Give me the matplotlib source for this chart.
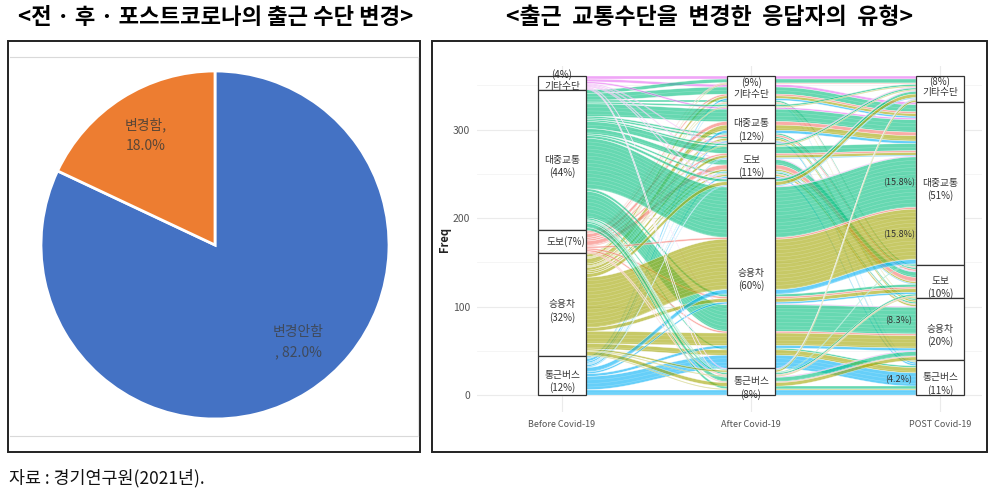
import numpy as np
import matplotlib.pyplot as plt
from matplotlib.patches import Rectangle
from matplotlib.lines import Line2D
from matplotlib.colors import to_rgba

plt.rcParams['font.family'] = ['Noto Sans CJK KR', 'DejaVu Sans']

# ---- left: pie ----
pie_labels = ['변경안함', '변경함']
pie_values = [82.0, 18.0]
pie_colors = ['#4472C4', '#ED7D31']

# ---- right: alluvial ----
modes = ['기타수단', '대중교통', '도보', '승용차', '통근버스']
mode_colors = ['#E76BF3', '#00BF7D', '#F8766D', '#A3A500', '#00B0F6']
stages = ['Before Covid-19', 'After Covid-19', 'POST Covid-19']

# respondents by after-covid mode: (before, post, count)
after_etc = [('기타수단', '기타수단', 3), ('기타수단', '대중교통', 3),
             ('대중교통', '기타수단', 4), ('대중교통', '대중교통', 8), ('대중교통', '도보', 2),
             ('도보', '기타수단', 1), ('도보', '대중교통', 2), ('도보', '도보', 1),
             ('승용차', '기타수단', 1), ('승용차', '대중교통', 3), ('승용차', '승용차', 1),
             ('통근버스', '대중교통', 2), ('통근버스', '통근버스', 1)]
after_transit = [('기타수단', '대중교통', 2),
                 ('대중교통', '기타수단', 2), ('대중교통', '대중교통', 14), ('대중교통', '도보', 2), ('대중교통', '승용차', 2),
                 ('도보', '대중교통', 4), ('도보', '도보', 2),
                 ('승용차', '기타수단', 1), ('승용차', '대중교통', 6), ('승용차', '승용차', 2), ('승용차', '통근버스', 1),
                 ('통근버스', '대중교통', 3), ('통근버스', '통근버스', 2)]
after_walk = [('기타수단', '기타수단', 1), ('기타수단', '도보', 1),
              ('대중교통', '기타수단', 2), ('대중교통', '대중교통', 8), ('대중교통', '도보', 6), ('대중교통', '승용차', 2),
              ('도보', '대중교통', 2), ('도보', '도보', 5), ('도보', '승용차', 1),
              ('승용차', '기타수단', 1), ('승용차', '대중교통', 3), ('승용차', '도보', 2), ('승용차', '승용차', 2),
              ('통근버스', '대중교통', 1), ('통근버스', '도보', 1), ('통근버스', '통근버스', 2)]
after_car = [('기타수단', '기타수단', 1), ('기타수단', '대중교통', 1), ('기타수단', '승용차', 1),
             ('대중교통', '기타수단', 3), ('대중교통', '대중교통', 57), ('대중교통', '도보', 3),
             ('대중교통', '승용차', 30), ('대중교통', '통근버스', 2),
             ('도보', '대중교통', 2), ('도보', '도보', 2), ('도보', '승용차', 2),
             ('승용차', '기타수단', 4), ('승용차', '대중교통', 57), ('승용차', '도보', 4),
             ('승용차', '승용차', 14), ('승용차', '통근버스', 6),
             ('통근버스', '기타수단', 1), ('통근버스', '대중교통', 5), ('통근버스', '도보', 2),
             ('통근버스', '승용차', 3), ('통근버스', '통근버스', 15)]
after_bus = [('기타수단', '기타수단', 1), ('기타수단', '승용차', 1),
             ('대중교통', '기타수단', 1), ('대중교통', '대중교통', 1), ('대중교통', '도보', 2),
             ('대중교통', '승용차', 5), ('대중교통', '통근버스', 3),
             ('도보', '도보', 1), ('도보', '승용차', 1),
             ('승용차', '기타수단', 2), ('승용차', '도보', 1), ('승용차', '승용차', 4), ('승용차', '통근버스', 1),
             ('통근버스', '통근버스', 6)]

# flows labelled with their share: (before, after, post)
noted_flows = [('대중교통', '승용차', '대중교통'), ('승용차', '승용차', '대중교통'),
               ('대중교통', '승용차', '승용차'), ('통근버스', '승용차', '통근버스')]

source_text = '자료 : 경기연구원(2021년).'

# build path table (mode indices per stage, count)
paths = []
for amode, rows in zip(modes, [after_etc, after_transit, after_walk, after_car, after_bus]):
    for b, p, n in rows:
        paths.append(((modes.index(b), modes.index(amode), modes.index(p)), n))
total = sum(n for _, n in paths)

W, H = 994, 491
fig = plt.figure(figsize=(W / 100, H / 100), dpi=100)


def fx(px):
    return px / W


def fy(py):
    return 1 - py / H


# panel frames
for x0, x1 in [(8, 420), (432, 987)]:
    fig.add_artist(Rectangle((fx(x0), fy(452)), fx(x1) - fx(x0), fy(41) - fy(452),
                             transform=fig.transFigure, fill=False, edgecolor='#222222', lw=1.4))
for yy in [57, 436]:
    fig.add_artist(Line2D([fx(10), fx(418)], [fy(yy), fy(yy)], transform=fig.transFigure,
                          color='#D9D9D9', lw=0.8))
fig.add_artist(Line2D([fx(418), fx(418)], [fy(57), fy(436)], transform=fig.transFigure,
                      color='#E3E3E3', lw=0.8))

fig.text(fx(216), fy(18), '<전 · 후 · 포스트코로나의 출근 수단 변경>', ha='center', va='center',
         fontsize=16, fontweight='heavy')
fig.text(fx(709), fy(18), '<출근  교통수단을  변경한  응답자의  유형>', ha='center', va='center',
         fontsize=16.5, fontweight='heavy')
fig.text(fx(9), fy(478), source_text, ha='left', va='center', fontsize=12.5, color='#111111')

# ---- pie ----
r_px = 174
axp = fig.add_axes([fx(215 - r_px), fy(245 + r_px), 2 * r_px / W, 2 * r_px / H])
axp.pie(pie_values, colors=pie_colors, startangle=90, counterclock=False,
        wedgeprops=dict(edgecolor='white', linewidth=2))
axp.set_xlim(-1, 1)
axp.set_ylim(-1, 1)
axp.text(0.48, -0.56, '%s\n, %.1f%%' % (pie_labels[0], pie_values[0]), ha='center', va='center',
         fontsize=10, color='#3F4A5C', linespacing=1.6)
axp.text(-0.40, 0.63, '%s,\n%.1f%%' % (pie_labels[1], pie_values[1]), ha='center', va='center',
         fontsize=10, color='#5A4636', linespacing=1.6)

# ---- alluvial ----
ax = fig.add_axes([fx(477), fy(412), (982 - 477) / W, (412 - 66) / H])
ax.set_xlim(0.55, 3.222)
ax.set_ylim(-19.2, 371.8)
for s in ax.spines.values():
    s.set_visible(False)
ax.set_yticks([0, 100, 200, 300])
ax.set_yticks([50, 150, 250, 350], minor=True)
ax.set_xticks([1, 2, 3])
ax.set_xticklabels(stages, fontsize=6.5, color='#555555')
ax.tick_params(axis='y', labelsize=7.5, labelcolor='#555555', length=0, pad=5)
ax.tick_params(axis='x', length=0, pad=6)
ax.tick_params(which='minor', length=0)
ax.grid(which='major', color='#EBEBEB', lw=0.8)
ax.grid(which='minor', axis='y', color='#F4F4F4', lw=0.6)
ax.set_axisbelow(True)
ax.set_ylabel('Freq', fontsize=8, color='#222222', labelpad=1, fontweight='semibold')

hw = 0.127
xs_axis = [1, 2, 3]

# stratum spans
strata = []
for k in range(3):
    counts = [sum(n for key, n in paths if key[k] == m) for m in range(len(modes))]
    top = total
    spans = []
    for c in counts:
        spans.append((top, top - c, c))
        top -= c
    strata.append(spans)

# lode positions per axis: zigzag ordering
orders = [(0, 1, 2), (1, 2, 0), (2, 1, 0)]
pos = {}
for k in range(3):
    idx = sorted(range(len(paths)), key=lambda i: tuple(paths[i][0][j] for j in orders[k]))
    cursor = {}
    for i in idx:
        m = paths[i][0][k]
        t = cursor.get(m, strata[k][m][0])
        pos[(i, k)] = (t, t - paths[i][1])
        cursor[m] = t - paths[i][1]

tt = np.linspace(0, 1, 60)
ss = (1 - np.cos(np.pi * tt)) / 2
for k in range(2):
    x0 = xs_axis[k] + hw
    x1 = xs_axis[k + 1] - hw
    xx = x0 + (x1 - x0) * tt
    for i, (key, n) in enumerate(paths):
        (a_t, a_b), (b_t, b_b) = pos[(i, k)], pos[(i, k + 1)]
        top = a_t + (b_t - a_t) * ss
        bot = a_b + (b_b - a_b) * ss
        col = mode_colors[key[0]]
        ax.fill(np.r_[xx, xx[::-1]], np.r_[top, bot[::-1]], facecolor=to_rgba(col, 0.6),
                edgecolor=(1, 1, 1, 0.7), lw=0.35, zorder=2)
        # thin strands inside wide bands
        for j in range(4, n, 4):
            yy = (a_t - j) + ((b_t - j) - (a_t - j)) * ss
            ax.plot(xx, yy, color=(1, 1, 1, 0.35), lw=0.3, zorder=2)

for k in range(3):
    for m, (top, bot, c) in enumerate(strata[k]):
        ax.add_patch(Rectangle((xs_axis[k] - hw, bot), 2 * hw, c, facecolor='white',
                               edgecolor='#333333', lw=0.9, zorder=3))
        pct = round(100 * c / total)
        mid = (top + bot) / 2
        if m == 0:
            ax.text(xs_axis[k], mid + 3, '(%d%%)\n%s' % (pct, modes[m]), ha='center', va='center',
                    fontsize=7, color='#333333', linespacing=1.1, zorder=4)
        elif c < 28:
            ax.text(xs_axis[k] + 0.02, mid, '%s(%d%%)' % (modes[m], pct), ha='center', va='center',
                    fontsize=7, color='#333333', zorder=4)
        else:
            ax.text(xs_axis[k], mid - 7, '%s\n(%d%%)' % (modes[m], pct), ha='center', va='center',
                    fontsize=7, color='#333333', linespacing=1.25, zorder=4)

for note in noted_flows:
    key = tuple(modes.index(m) for m in note)
    i = [j for j, (kk, _) in enumerate(paths) if kk == key][0]
    t, b = pos[(i, 2)]
    ax.text(3 - hw - 0.09, (t + b) / 2, '(%.1f%%)' % (100 * paths[i][1] / total), ha='center',
            va='center', fontsize=6.5, color='#333333', zorder=4)

fig.savefig('out.png', dpi=100)
